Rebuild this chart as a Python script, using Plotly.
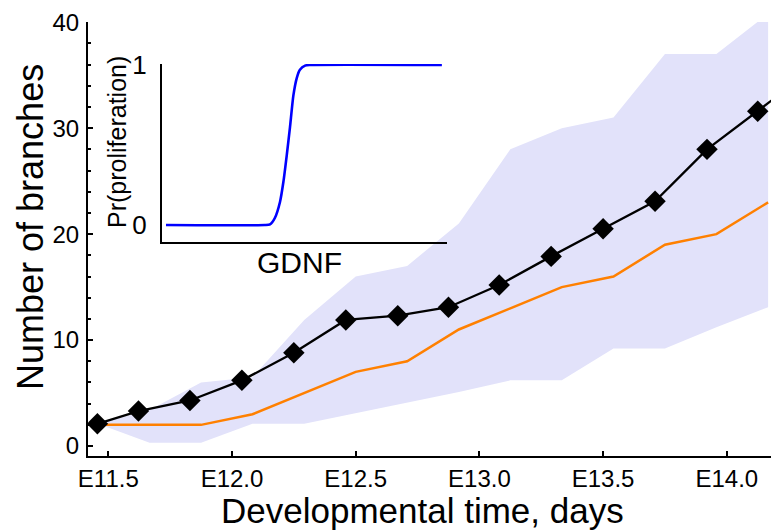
import plotly.graph_objects as go

# ---- data ----
obs_x = [11.456, 11.622, 11.83, 12.04, 12.25, 12.46, 12.67, 12.875, 13.08, 13.29, 13.50, 13.71, 13.92, 14.125, 14.333]
obs_y = [2.1, 3.3, 4.3, 6.2, 8.8, 11.9, 12.3, 13.1, 15.2, 17.9, 20.5, 23.1, 28.0, 31.6, 35.3]

sim_x = [11.458, 11.667, 11.875, 12.083, 12.292, 12.5, 12.708, 12.917, 13.125, 13.333, 13.542, 13.75, 13.958, 14.167]
sim_mean = [2, 2, 2, 3, 5, 7, 8, 11, 13, 15, 16, 19, 20, 23]
sim_low = [2.1, 0.3, 0.3, 2.1, 2.1, 3.1, 4.1, 5.1, 6.2, 6.2, 9.2, 9.2, 11.2, 13.1]
sim_high = [2.1, 3.4, 6.0, 6.5, 11.9, 16.0, 17.0, 21.0, 28.0, 30.0, 31.0, 37.0, 37.0, 40.8]

x_tickvals = [11.5, 12.0, 12.5, 13.0, 13.5, 14.0]
x_ticktext = ["E11.5", "E12.0", "E12.5", "E13.0", "E13.5", "E14.0"]
y_tickvals = [0, 10, 20, 30, 40]

# inset: schematic probability of proliferation vs GDNF
gdnf = [0.014, 0.361, 0.379, 0.396, 0.414, 0.426, 0.438, 0.449, 0.461, 0.473, 0.484, 0.502, 0.519, 0.982]
p_prolif = [0.0, 0.0, 0.004, 0.044, 0.144, 0.27, 0.44, 0.61, 0.81, 0.92, 0.97, 0.996, 1.0, 1.0]

FONT = "Liberation Sans, Arial, sans-serif"
# the page body keeps an 8px margin, so the figure is 8px smaller and shifted
OFF = 8
W, H = 779 - OFF, 530 - OFF
L, R, T, B = 88 - OFF, 0, 22 - OFF, 74
PW, PH = W - L - R, H - T - B   # 691 x 434


def px(xp):  # reference pixel -> paper
    return (xp - 88) / PW


def py(yp):
    return (456 - yp) / PH


fig = go.Figure()

fig.add_trace(go.Scatter(
    x=sim_x + sim_x[::-1], y=sim_high + sim_low[::-1],
    fill="toself", fillcolor="rgb(226,226,250)", line=dict(width=0),
    mode="lines", hoverinfo="skip", showlegend=False))

fig.add_trace(go.Scatter(
    x=sim_x, y=sim_mean, mode="lines",
    line=dict(color="rgb(255,128,0)", width=2.5), showlegend=False))

fig.add_trace(go.Scatter(
    x=obs_x, y=obs_y, mode="lines+markers",
    line=dict(color="black", width=2.3),
    marker=dict(symbol="diamond", size=16.5, color="black"),
    showlegend=False))

fig.add_trace(go.Scatter(
    x=gdnf, y=p_prolif, mode="lines", xaxis="x2", yaxis="y2",
    line=dict(color="rgb(0,0,255)", width=2.6, shape="spline", smoothing=0.6), showlegend=False))

fig.update_layout(
    width=W, height=H,
    margin=dict(l=L, r=R, t=T, b=B, pad=0, autoexpand=False),
    paper_bgcolor="white", plot_bgcolor="rgba(0,0,0,0)",
    font=dict(family=FONT, color="black"),
    xaxis=dict(
        range=[11.418, 14.211], tickvals=x_tickvals, ticktext=x_ticktext,
        showline=True, linecolor="black", linewidth=2,
        ticks="inside", ticklen=5, tickwidth=2, tickcolor="black",
        tickfont=dict(size=24), showgrid=False, zeroline=False, automargin=False,
    ),
    yaxis=dict(
        range=[-0.94, 40.02], tickvals=y_tickvals,
        showline=True, linecolor="black", linewidth=2,
        ticks="inside", ticklen=5, tickwidth=2, tickcolor="black",
        minor=dict(dtick=2, tick0=0, ticks="inside", ticklen=3, tickwidth=2, tickcolor="black", showgrid=False),
        tickfont=dict(size=24), showgrid=False, zeroline=False,
        ticklabelstandoff=2, automargin=False,
    ),
    xaxis2=dict(
        domain=[px(162), px(447)], anchor="y2", range=[0, 1],
        showline=True, linecolor="black", linewidth=2,
        ticks="", showticklabels=False, showgrid=False, zeroline=False, automargin=False,
    ),
    yaxis2=dict(
        domain=[py(242), py(64)], anchor="x2", range=[-0.106, 1.006],
        tickvals=[0, 1], ticktext=["0", "1"],
        showline=True, linecolor="black", linewidth=2,
        ticks="", tickfont=dict(size=26), showgrid=False, zeroline=False,
        ticklabelstandoff=8, automargin=False,
    ),
    annotations=[
        dict(text="Number of branches", x=px(30), y=py(227), xref="paper", yref="paper",
             textangle=-90, showarrow=False, font=dict(size=36), xanchor="center", yanchor="middle"),
        dict(text="Developmental time, days", x=px(422.5), y=py(510), xref="paper", yref="paper",
             showarrow=False, font=dict(size=35), xanchor="center", yanchor="middle"),
        dict(text="Pr(proliferation)", x=px(117), y=py(142), xref="paper", yref="paper",
             textangle=-90, showarrow=False, font=dict(size=25), xanchor="center", yanchor="middle"),
        dict(text="GDNF", x=px(299), y=py(262), xref="paper", yref="paper",
             showarrow=False, font=dict(size=30), xanchor="center", yanchor="middle"),
    ],
)

fig.write_html("out.html")
